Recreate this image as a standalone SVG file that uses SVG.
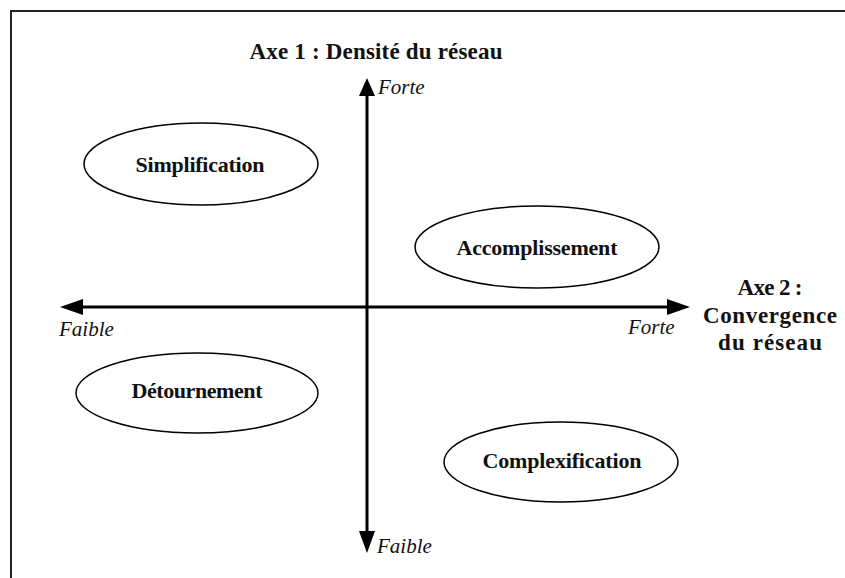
<svg xmlns="http://www.w3.org/2000/svg" width="845" height="578" viewBox="0 0 845 578">
<style>
.b{font-family:"Liberation Serif",serif;font-weight:bold;font-size:22px;fill:#111;text-anchor:middle}
.t{font-size:23px}
.i{font-family:"Liberation Serif",serif;font-style:italic;font-size:21px;fill:#111}
.el{fill:#fff;stroke:#000;stroke-width:1.5}
.ax{stroke:#000;stroke-width:3;fill:none}
</style>
<rect width="845" height="578" fill="#fff"/>
<path d="M11 578 V11 H845" fill="none" stroke="#222" stroke-width="2"/>
<g id="connectors">
<line class="ax" x1="367" y1="94" x2="367" y2="535"/>
<polygon points="367,78 359,96 375,96"/>
<polygon points="367,553 359,531 375,531"/>
<line class="ax" x1="80" y1="307" x2="670" y2="307"/>
<polygon points="60,307 83,299 83,315"/>
<polygon points="690,307 667,299 667,315"/>
</g>
<g id="axis1-label">
<text class="b t" x="376" y="59" textLength="253">Axe 1 : Densité du réseau</text>
<text class="i" x="378" y="94">Forte</text>
<text class="i" x="377" y="553">Faible</text>
</g>
<g id="axis2-label">
<text class="b t" x="770" y="295" textLength="65">Axe 2 :</text>
<text class="b t" x="770" y="323" textLength="134">Convergence</text>
<text class="b t" x="770" y="350" textLength="104">du réseau</text>
<text class="i" x="59" y="336">Faible</text>
<text class="i" x="628" y="334">Forte</text>
</g>
<g id="simplification">
<ellipse class="el" cx="201" cy="164" rx="117" ry="41"/>
<text class="b" x="200" y="172" textLength="129">Simplification</text>
</g>
<g id="accomplissement">
<ellipse class="el" cx="537" cy="247" rx="122" ry="41"/>
<text class="b" x="537" y="255" textLength="161">Accomplissement</text>
</g>
<g id="detournement">
<ellipse class="el" cx="197" cy="393" rx="121" ry="40"/>
<text class="b" x="197" y="398" textLength="131">Détournement</text>
</g>
<g id="complexification">
<ellipse class="el" cx="561" cy="462" rx="117" ry="40"/>
<text class="b" x="562" y="468" textLength="159">Complexification</text>
</g>
</svg>
